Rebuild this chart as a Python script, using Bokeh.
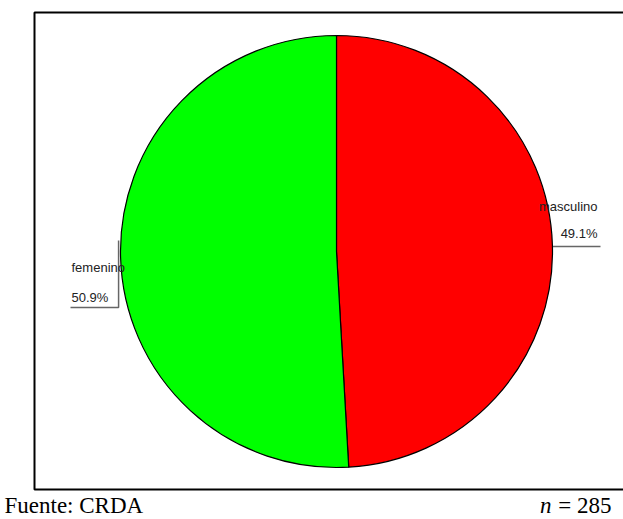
import math
from bokeh.plotting import figure
from bokeh.models import Range1d
from bokeh.core.properties import value
from bokeh.embed import file_html
from bokeh.resources import INLINE

# ---- data ----
categories = ["masculino", "femenino"]
percentages = [49.1, 50.9]
colors = ["#FF0000", "#00FF00"]
n_total = 285
source_note = "Fuente: CRDA"

W, H = 623, 519
p = figure(width=W, height=H, output_backend="svg", toolbar_location=None,
           x_range=Range1d(0, W), y_range=Range1d(0, H),
           min_border=0, min_border_left=0, min_border_right=0,
           min_border_top=0, min_border_bottom=0)
p.axis.visible = False
p.grid.visible = False
p.outline_line_color = None
p.background_fill_color = "white"
p.border_fill_color = "white"
p.styles = {"position": "absolute", "left": "0px", "top": "0px"}

def Y(py):
    return H - py

# frame box
bx0, by0, by1, bx1 = 34, 12, 489, 640
p.line([bx1, bx0, bx0, bx1], [Y(by0), Y(by0), Y(by1), Y(by1)],
       line_color="black", line_width=2)

# pie
cx, cy, r = 336, 251, 216
fracs = [v / sum(percentages) for v in percentages]
starts, ends, mids = [], [], []
acc = 0.0
for f in fracs:
    a0 = math.pi / 2 - 2 * math.pi * (acc + f)
    a1 = math.pi / 2 - 2 * math.pi * acc
    starts.append(a0)
    ends.append(a1)
    mids.append((a0 + a1) / 2)
    acc += f

# leader lines (drawn beneath the pie)
lead_col = "#666666"
m_ang = mids[0]
mx = cx + r * math.cos(m_ang)
my = cy - r * math.sin(m_ang)
p.line([mx, 600], [Y(my + 1), Y(my + 1)], line_color=lead_col, line_width=1.5)
f_ang = mids[1]
fx = cx + r * math.cos(f_ang)
fy = cy - r * math.sin(f_ang)
p.line([fx - 2, fx - 2, 70], [Y(240), Y(307), Y(307)], line_color=lead_col, line_width=1.5)

p.wedge(x=cx, y=Y(cy), radius=r, start_angle=starts, end_angle=ends,
        fill_color=colors, line_color="black", line_width=1.2)

lab_font = value("Liberation Sans")
p.text(x=[597, 597], y=[Y(206), Y(233)],
       text=[categories[0], f"{percentages[0]:.1f}%"],
       text_align="right", text_baseline="alphabetic",
       text_font=lab_font, text_font_size="13px", text_color="#222222")
p.text(x=[71, 71], y=[Y(267), Y(297)],
       text=[categories[1], f"{percentages[1]:.1f}%"],
       text_align="left", text_baseline="alphabetic",
       text_font=lab_font, text_font_size="13px", text_color="#222222")

# footer
serif = value("Liberation Serif")
fb = 505
p.text(x=[4], y=[Y(fb)], text=[source_note], text_align="left",
       text_baseline="alphabetic", text_font=serif, text_font_size="23px",
       text_color="black")
p.text(x=[551], y=[Y(fb)], text=["n"], text_align="right",
       text_baseline="alphabetic", text_font=serif, text_font_size="23px",
       text_font_style="italic", text_color="black")
p.text(x=[611], y=[Y(fb)], text=[f"= {n_total}"], text_align="right",
       text_baseline="alphabetic", text_font=serif, text_font_size="23px",
       text_color="black")

open("out.html", "w").write(file_html(p, INLINE))
